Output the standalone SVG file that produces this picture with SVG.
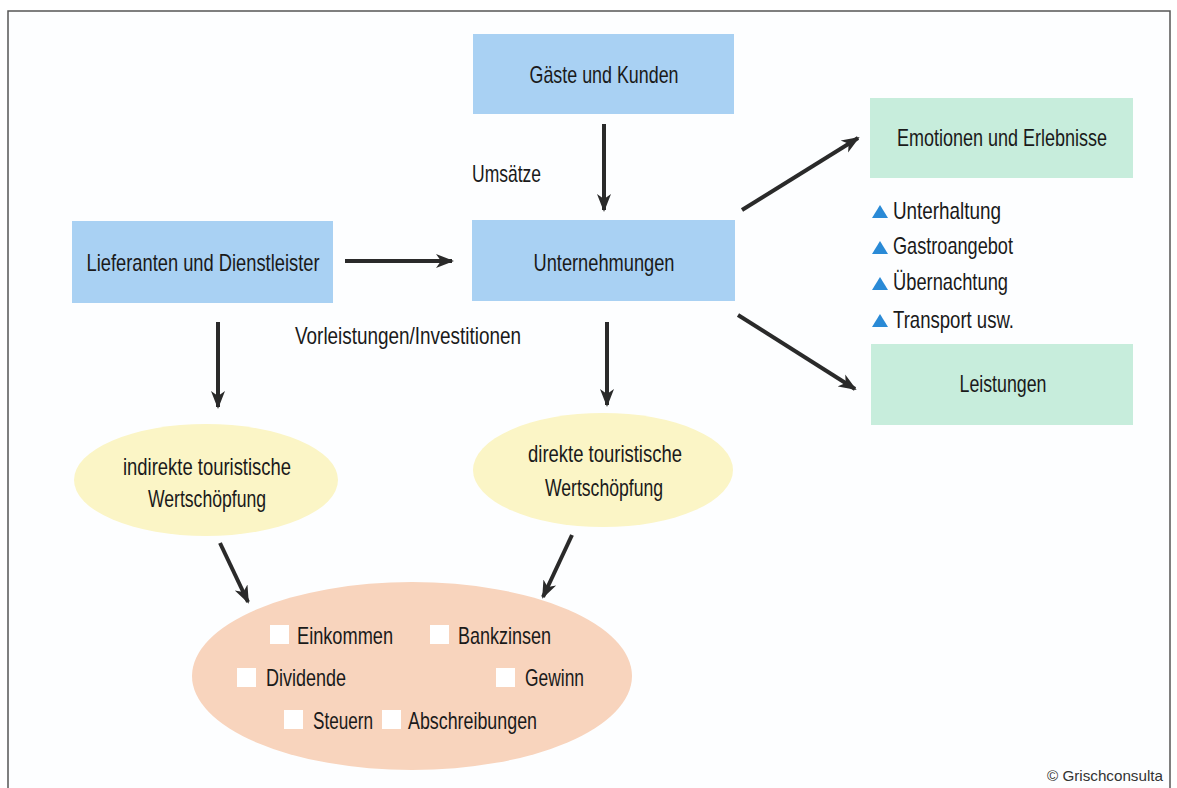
<svg xmlns="http://www.w3.org/2000/svg" width="1177" height="788" viewBox="0 0 1177 788">
<defs>
<style>
.lbl{font-family:"Liberation Sans",Arial,sans-serif;font-size:24px;fill:#1a1a1a;}
.c{text-anchor:middle;}
.blue{fill:#a9d1f3;}
.green{fill:#c7eddc;}
.yel{fill:#fbf5c6;}
.peach{fill:#f8d4bd;}
.sq{fill:#ffffff;}
.tri{fill:#2a8ad6;}
.con line{stroke:#2a2a2a;stroke-width:4;marker-end:url(#ah);}
</style>
<marker id="ah" markerUnits="userSpaceOnUse" markerWidth="20" markerHeight="16" viewBox="0 -8 20 16" refX="16" refY="0" orient="auto">
<path d="M0,-7 L18,0 L0,7 L5,0 Z" fill="#2a2a2a"/>
</marker>
</defs>
<rect x="0" y="0" width="1177" height="788" fill="#ffffff"/>
<rect x="8" y="11" width="1162" height="800" fill="#fdfeff" stroke="#555" stroke-width="1.5"/>

<g id="gaeste"><rect class="blue" x="473" y="34" width="261" height="80"/><text class="lbl c" x="604" y="83" textLength="149" lengthAdjust="spacingAndGlyphs">Gäste und Kunden</text></g>
<g id="unternehmungen"><rect class="blue" x="472" y="220" width="263" height="81"/><text class="lbl c" x="604" y="271" textLength="141" lengthAdjust="spacingAndGlyphs">Unternehmungen</text></g>
<g id="lieferanten"><rect class="blue" x="72" y="221" width="261" height="82"/><text class="lbl c" x="203" y="271" textLength="233" lengthAdjust="spacingAndGlyphs">Lieferanten und Dienstleister</text></g>
<g id="emotionen"><rect class="green" x="870" y="98" width="263" height="80"/><text class="lbl c" x="1002" y="146" textLength="210" lengthAdjust="spacingAndGlyphs">Emotionen und Erlebnisse</text></g>
<g id="leistungen"><rect class="green" x="871" y="344" width="262" height="81"/><text class="lbl c" x="1003" y="392" textLength="87" lengthAdjust="spacingAndGlyphs">Leistungen</text></g>

<g id="liste">
<polygon class="tri" points="872,218 880,205 888,218"/><text class="lbl" x="893" y="219" textLength="108" lengthAdjust="spacingAndGlyphs">Unterhaltung</text>
<polygon class="tri" points="872,254 880,241 888,254"/><text class="lbl" x="893" y="254" textLength="120" lengthAdjust="spacingAndGlyphs">Gastroangebot</text>
<polygon class="tri" points="872,290 880,277 888,290"/><text class="lbl" x="893" y="290" textLength="115" lengthAdjust="spacingAndGlyphs">Übernachtung</text>
<polygon class="tri" points="872,327 880,314 888,327"/><text class="lbl" x="893" y="328" textLength="121" lengthAdjust="spacingAndGlyphs">Transport usw.</text>
</g>

<g id="indirekt"><ellipse class="yel" cx="206" cy="480" rx="132" ry="56"/><text class="lbl c" x="207" y="475" textLength="168" lengthAdjust="spacingAndGlyphs">indirekte touristische</text><text class="lbl c" x="207" y="507" textLength="118" lengthAdjust="spacingAndGlyphs">Wertschöpfung</text></g>
<g id="direkt"><ellipse class="yel" cx="603" cy="470" rx="130" ry="57"/><text class="lbl c" x="605" y="462" textLength="154" lengthAdjust="spacingAndGlyphs">direkte touristische</text><text class="lbl c" x="604" y="496" textLength="118" lengthAdjust="spacingAndGlyphs">Wertschöpfung</text></g>

<g id="einkommen">
<ellipse class="peach" cx="412" cy="676" rx="220" ry="94"/>
<rect class="sq" x="270" y="625" width="19" height="19"/><text class="lbl" x="297" y="644" textLength="96" lengthAdjust="spacingAndGlyphs">Einkommen</text>
<rect class="sq" x="430" y="625" width="19" height="19"/><text class="lbl" x="458" y="644" textLength="93" lengthAdjust="spacingAndGlyphs">Bankzinsen</text>
<rect class="sq" x="237" y="668" width="19" height="19"/><text class="lbl" x="266" y="686" textLength="80" lengthAdjust="spacingAndGlyphs">Dividende</text>
<rect class="sq" x="496" y="668" width="19" height="19"/><text class="lbl" x="525" y="686" textLength="59" lengthAdjust="spacingAndGlyphs">Gewinn</text>
<rect class="sq" x="284" y="710" width="19" height="19"/><text class="lbl" x="313" y="729" textLength="60" lengthAdjust="spacingAndGlyphs">Steuern</text>
<rect class="sq" x="382" y="710" width="19" height="19"/><text class="lbl" x="408" y="729" textLength="129" lengthAdjust="spacingAndGlyphs">Abschreibungen</text>
</g>

<g id="labels">
<text class="lbl" x="472" y="182" textLength="69" lengthAdjust="spacingAndGlyphs">Umsätze</text>
<text class="lbl" x="295" y="344" textLength="226" lengthAdjust="spacingAndGlyphs">Vorleistungen/Investitionen</text>
</g>

<g id="connectors" class="con">
<line x1="604" y1="124" x2="604" y2="210"/>
<line x1="345" y1="261" x2="452" y2="261"/>
<line x1="742" y1="210" x2="858" y2="138"/>
<line x1="738" y1="315" x2="855" y2="389"/>
<line x1="218" y1="322" x2="218" y2="407"/>
<line x1="607" y1="322" x2="607" y2="405"/>
<line x1="220" y1="543" x2="248" y2="602"/>
<line x1="572" y1="535" x2="543" y2="597"/>
</g>

<text x="1163" y="781" text-anchor="end" textLength="116" lengthAdjust="spacingAndGlyphs" style="font-family:'Liberation Sans',sans-serif;font-size:15px;fill:#333;">© Grischconsulta</text>
</svg>
